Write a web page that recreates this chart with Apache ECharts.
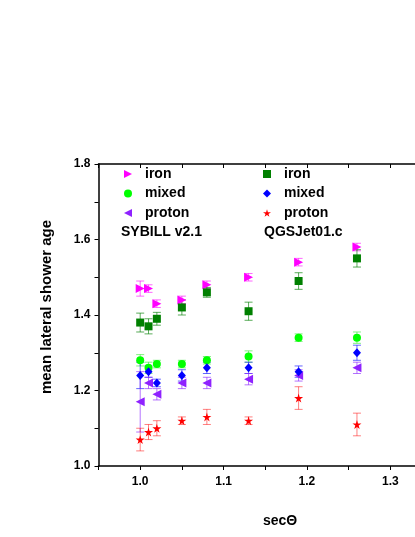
<!DOCTYPE html>
<html>
<head>
<meta charset="utf-8">
<script src="https://cdn.jsdelivr.net/npm/echarts@6/dist/echarts.min.js"></script>
<style>
  html, body { margin: 0; padding: 0; background: #fff; }
  #chart { width: 415px; height: 537px; }
</style>
</head>
<body>
<div id="chart"></div>
<script>
// sec(theta) values shared by all series
var secTheta = [1.0, 1.01, 1.02, 1.05, 1.08, 1.13, 1.19, 1.26];

// SYBILL v2.1
var sybIron = [1.47, 1.47, 1.43, 1.44, 1.48, 1.50, 1.54, 1.58];
var sybIronErr = [0.02, 0.01, 0.01, 0.01, 0.01, 0.01, 0.01, 0.01];
var sybMixed = [1.28, 1.26, 1.27, 1.27, 1.28, 1.29, 1.34, 1.34];
var sybMixedErr = [0.015, 0.015, 0.01, 0.01, 0.01, 0.015, 0.01, 0.015];
var sybProton = [1.17, 1.22, 1.19, 1.22, 1.22, 1.23, 1.24, 1.26];
var sybProtonErr = [0.08, 0.015, 0.015, 0.015, 0.015, 0.015, 0.015, 0.015];

// QGSJet01.c
var qgsIron = [1.38, 1.37, 1.39, 1.42, 1.46, 1.41, 1.49, 1.55];
var qgsIronErr = [0.025, 0.02, 0.017, 0.02, 0.013, 0.024, 0.022, 0.023];
var qgsMixed = [1.24, 1.25, 1.22, 1.24, 1.26, 1.26, 1.25, 1.30];
var qgsMixedErr = [0.035, 0.015, 0.01, 0.015, 0.015, 0.015, 0.015, 0.02];
var qgsProton = [1.07, 1.09, 1.10, 1.12, 1.13, 1.12, 1.18, 1.11];
var qgsProtonErr = [0.03, 0.02, 0.02, 0.01, 0.02, 0.01, 0.03, 0.03];

var yTicks = [1.0, 1.2, 1.4, 1.6, 1.8];
var xTicks = [1.0, 1.1, 1.2, 1.3];

var starPath = 'path://M50,0 L61,35 L98,35 L68,57 L79,91 L50,70 L21,91 L32,57 L2,35 L39,35 Z';
var triRight = 'path://M0,0 L10,5 L0,10 Z';
var triLeft = 'path://M10,0 L0,5 L10,10 Z';

var chart = echarts.init(document.getElementById('chart'));

function points(ys) {
  return secTheta.map(function (x, i) { return [x, ys[i]]; });
}

function errBars(ys, errs, color) {
  return {
    type: 'custom',
    silent: true,
    z: 1,
    data: secTheta.map(function (x, i) { return [x, ys[i] - errs[i], ys[i] + errs[i]]; }),
    renderItem: function (params, api) {
      var lo = api.coord([api.value(0), api.value(1)]);
      var hi = api.coord([api.value(0), api.value(2)]);
      var w = 4;
      return {
        type: 'group',
        children: [
          { type: 'line', shape: { x1: lo[0], y1: lo[1], x2: hi[0], y2: hi[1] }, style: { stroke: color, lineWidth: 1 } },
          { type: 'line', shape: { x1: lo[0] - w, y1: lo[1], x2: lo[0] + w, y2: lo[1] }, style: { stroke: color, lineWidth: 1 } },
          { type: 'line', shape: { x1: hi[0] - w, y1: hi[1], x2: hi[0] + w, y2: hi[1] }, style: { stroke: color, lineWidth: 1 } }
        ]
      };
    }
  };
}

function scatter(name, ys, color, symbol, size) {
  return {
    name: name,
    type: 'scatter',
    z: 3,
    data: points(ys),
    symbol: symbol,
    symbolSize: size,
    itemStyle: { color: color, opacity: 1 }
  };
}

var legendText = {
  fontFamily: 'Liberation Sans, Arial, sans-serif',
  fontWeight: 'bold',
  fontSize: 14,
  color: '#000',
  lineHeight: 14,
  padding: [0, 0, 0, 8]
};

chart.setOption({
  animation: false,
  grid: { left: 98.5, top: 164, bottom: 71, width: 333.5, outerBoundsMode: 'none' },
  legend: [
    {
      orient: 'vertical', left: 124, top: 167, padding: 0, itemGap: 5.5,
      itemWidth: 8, itemHeight: 8,
      data: [
        { name: 'SYBILL iron', icon: triRight },
        { name: 'SYBILL mixed', icon: 'circle' },
        { name: 'SYBILL proton', icon: triLeft }
      ],
      formatter: function (n) { return n.split(' ')[1]; },
      textStyle: legendText, selectedMode: false
    },
    {
      orient: 'vertical', left: 263, top: 167, padding: 0, itemGap: 5.5,
      itemWidth: 8, itemHeight: 8,
      data: [
        { name: 'QGSJet iron', icon: 'rect' },
        { name: 'QGSJet mixed', icon: 'diamond' },
        { name: 'QGSJet proton', icon: starPath }
      ],
      formatter: function (n) { return n.split(' ')[1]; },
      textStyle: legendText, selectedMode: false
    }
  ],
  graphic: [
    { type: 'text', left: 121, top: 225, style: { text: 'SYBILL v2.1', font: 'bold 14px "Liberation Sans", Arial, sans-serif', fill: '#000' } },
    { type: 'text', left: 264, top: 225, style: { text: 'QGSJet01.c', font: 'bold 14px "Liberation Sans", Arial, sans-serif', fill: '#000' } },
    { type: 'text', x: 47, y: 307, rotation: Math.PI / 2, style: { text: 'mean lateral shower age', font: 'bold 15px "Liberation Sans", Arial, sans-serif', fill: '#000', align: 'center', verticalAlign: 'middle' } },
    { type: 'text', x: 280, y: 521, style: { text: 'secΘ', font: 'bold 14px "Liberation Sans", Arial, sans-serif', fill: '#000', align: 'center', verticalAlign: 'middle' } }
  ],
  xAxis: [
    {
      type: 'value', min: 0.95, max: 1.35, interval: 0.05,
      splitLine: { show: false },
      axisLine: { lineStyle: { color: '#000', width: 1.5 } },
      axisTick: { length: 4, lineStyle: { color: '#000', width: 1 } },
      axisLabel: {
        color: '#000', fontWeight: 'bold', fontSize: 12, margin: 10,
        fontFamily: 'Liberation Sans, Arial, sans-serif',
        formatter: function (v) {
          var t = Math.round(v * 100);
          return xTicks.some(function (k) { return Math.round(k * 100) === t; }) ? v.toFixed(1) : '';
        }
      }
    },
    {
      type: 'value', position: 'top', min: 0.95, max: 1.35, interval: 0.05,
      splitLine: { show: false },
      axisLine: { lineStyle: { color: '#000', width: 1.5 } },
      axisTick: { inside: true, length: 4, lineStyle: { color: '#000', width: 1 } },
      axisLabel: { show: false }
    }
  ],
  yAxis: {
    type: 'value', min: 1.0, max: 1.8, interval: 0.1,
    splitLine: { show: false },
    axisLine: { show: true, lineStyle: { color: '#000', width: 1.5 } },
    axisTick: { length: 4, lineStyle: { color: '#000', width: 1 } },
    axisLabel: {
      color: '#000', fontWeight: 'bold', fontSize: 12, margin: 8,
      fontFamily: 'Liberation Sans, Arial, sans-serif',
      formatter: function (v) {
        var t = Math.round(v * 10);
        return yTicks.some(function (k) { return Math.round(k * 10) === t; }) ? v.toFixed(1) : '';
      }
    }
  },
  series: [
    errBars(sybIron, sybIronErr, 'rgba(255,0,255,0.6)'),
    errBars(qgsIron, qgsIronErr, 'rgba(0,128,0,0.65)'),
    errBars(sybMixed, sybMixedErr, 'rgba(0,230,0,0.5)'),
    errBars(qgsMixed, qgsMixedErr, 'rgba(0,0,255,0.6)'),
    errBars(sybProton, sybProtonErr, 'rgba(140,40,255,0.65)'),
    errBars(qgsProton, qgsProtonErr, 'rgba(255,0,0,0.5)'),
    scatter('SYBILL iron', sybIron, '#ff00ff', triRight, 9),
    scatter('SYBILL mixed', sybMixed, '#00ff00', 'circle', 8),
    scatter('SYBILL proton', sybProton, '#8f22ff', triLeft, 9),
    scatter('QGSJet iron', qgsIron, '#008000', 'rect', 8),
    scatter('QGSJet mixed', qgsMixed, '#0000ff', 'diamond', [8, 9]),
    scatter('QGSJet proton', qgsProton, '#ff0000', starPath, 9)
  ]
});
</script>
</body>
</html>
